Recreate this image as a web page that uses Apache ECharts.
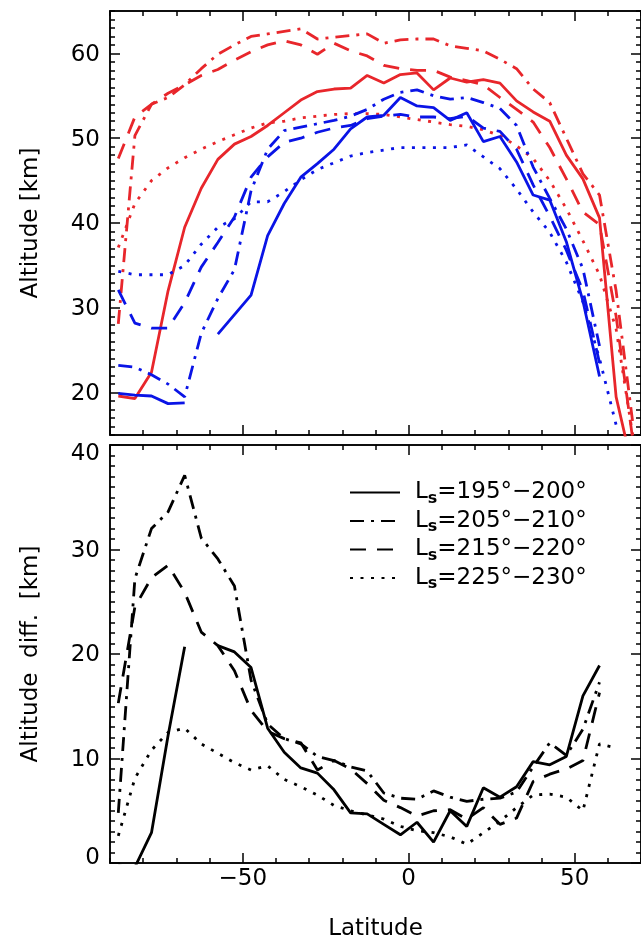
<!DOCTYPE html>
<html>
<head>
<meta charset="utf-8">
<script src="https://cdn.jsdelivr.net/npm/echarts@6/dist/echarts.min.js"></script>
<style>
html,body{margin:0;padding:0;background:#fff;}
#chart{width:641px;height:942px;}
</style>
</head>
<body>
<div id="chart"></div>
<script>
// ---------------- data ----------------
const lat = [-87.5, -82.5, -77.5, -72.5, -67.5, -62.5, -57.5, -52.5, -47.5, -42.5, -37.5, -32.5,
             -27.5, -22.5, -17.5, -12.5, -7.5, -2.5, 2.5, 7.5, 12.5, 17.5, 22.5, 27.5,
             32.5, 37.5, 42.5, 47.5, 52.5, 57.5, 62.5, 67.5];

// top panel (red)
const redSolid   = [19.6, 19.3, 22.4, 32.0, 39.5, 44.1, 47.5, 49.3, 50.2, 51.5, 53.0, 54.5, 55.5, 55.8, 55.9, 57.4, 56.5, 57.5, 57.7, 55.7, 57.1, 56.6, 56.9, 56.5, 54.4, 53.1, 52.0, 48.0, 45.2, 40.6, 19.5, 11.0];
const redDashDot = [28.1, 50.3, 54.0, 54.8, 56.3, 58.2, 59.9, 61.0, 62.0, 62.3, 62.6, 62.9, 61.7, 61.9, 62.1, 62.3, 61.2, 61.6, 61.7, 61.7, 60.9, 60.6, 60.3, 59.3, 58.2, 55.8, 54.2, 50.0, 45.8, 43.3, 32.0, 16.5];
const redDashed  = [47.6, 52.5, 54.0, 55.3, 56.3, 57.4, 58.1, 59.2, 60.2, 61.0, 61.5, 61.0, 59.9, 61.2, 60.3, 59.7, 58.6, 58.2, 58.0, 58.0, 57.2, 56.8, 56.3, 54.8, 53.4, 51.9, 48.9, 45.2, 41.3, 39.8, 29.0, 14.5];
const redDotted  = [37.1, 42.3, 45.0, 46.5, 47.7, 48.7, 49.6, 50.4, 51.2, 51.8, 52.0, 52.4, 52.6, 52.8, 52.9, 52.9, 52.8, 52.5, 52.2, 51.9, 51.6, 51.4, 51.0, 50.3, 49.1, 47.6, 45.0, 41.7, 37.9, 33.9, 27.5, 15.0];
// top panel (blue)
const blueSolid   = [19.9, 19.7, 19.6, 18.7, 18.8, null, 26.9, 29.2, 31.5, 38.5, 42.3, 45.4, 47.0, 48.7, 51.1, 52.5, 52.7, 54.8, 53.8, 53.6, 52.1, 53.0, 49.6, 50.2, 47.2, 43.3, 42.7, 37.8, 30.8, 21.9, null, null];
const blueDashDot = [23.2, 23.0, 22.1, 21.0, 19.5, 27.0, 31.1, 34.5, 43.8, 48.7, 50.9, 51.3, 51.7, 52.1, 52.6, 53.4, 54.6, 55.4, 55.7, 55.0, 54.6, 54.8, 54.2, 53.5, 51.5, 46.6, 42.9, 39.3, 34.6, 25.5, null, null];
const blueDashed  = [32.1, 28.2, 27.6, 27.6, 30.6, 34.8, 37.7, 40.7, 45.4, 47.8, 49.5, 50.0, 50.7, 51.2, 51.5, 52.3, 52.6, 52.8, 52.5, 52.5, 52.3, 52.6, 51.2, 50.8, 48.7, 44.5, 40.8, 36.8, 32.0, 23.5, null, null];
const blueDotted  = [34.3, 33.9, 33.9, 33.9, 35.0, 37.5, 39.5, 40.5, 42.5, 42.5, 43.7, 45.1, 46.3, 47.1, 47.9, 48.3, 48.6, 48.9, 48.9, 48.9, 48.9, 49.2, 47.8, 46.4, 44.0, 41.3, 38.9, 35.4, 30.7, 24.0, 16.2, null];

// bottom panel (altitude difference)
const diffSolid   = [-0.3, -0.4, 2.9, 12.2, 20.7, null, 20.8, 20.2, 18.7, 12.9, 10.6, 9.1, 8.6, 7.0, 4.8, 4.7, 3.7, 2.7, 3.9, 2.0, 5.0, 3.5, 7.2, 6.3, 7.3, 9.7, 9.4, 10.2, 16.0, 18.9, null, null];
const diffDashDot = [4.8, 27.2, 32.0, 33.6, 37.1, 31.1, 29.1, 26.5, 17.5, 13.3, 11.9, 11.4, 10.2, 9.8, 9.2, 8.8, 6.7, 6.2, 6.1, 6.9, 6.3, 5.9, 6.1, 6.2, 6.8, 9.2, 11.5, 10.3, 12.8, 17.3, null, null];
const diffDashed  = [15.3, 24.5, 27.3, 28.5, 25.9, 22.1, 20.8, 18.4, 14.6, 12.6, 11.9, 11.5, 8.9, 9.8, 9.0, 7.6, 6.0, 5.3, 4.5, 5.0, 5.1, 4.2, 5.3, 3.7, 4.3, 7.8, 8.5, 9.0, 9.8, 16.3, null, null];
const diffDotted  = [2.6, 8.1, 10.8, 12.5, 12.9, 11.4, 10.5, 9.6, 8.9, 9.3, 8.0, 7.3, 6.5, 5.5, 5.0, 4.6, 4.2, 3.5, 3.1, 2.9, 2.5, 1.8, 2.9, 4.0, 5.3, 6.5, 6.6, 6.3, 5.0, 11.4, 11.0, null];

const legendNames = ['Ls=195°−200°', 'Ls=205°−210°', 'Ls=215°−220°', 'Ls=225°−230°'];
const xMajorTicks = [-50, 0, 50];
const yMajorTop = [20, 30, 40, 50, 60];
const yMajorBottom = [0, 10, 20, 30, 40];

// ---------------- styling ----------------
const FONT = 'DejaVu Sans';
const RED = '#e8262b', BLUE = '#0a14e6', BLACK = '#000000';
const DASH = { solid: 'solid', dashdot: [14, 7, 3, 7], dashed: [16, 11], dotted: [3, 7.5] };
const LW = 2.8;
const AX = { color: '#000', width: 1.5 };

function fmtX(v) { return v < 0 ? '\u2212' + (-v) : String(v); }

function xAxes(grid, labels) {
  const base = { type: 'value', gridIndex: grid, min: -90, max: 70,
    axisLine: { show: true, onZero: false, lineStyle: AX }, splitLine: { show: false } };
  return [
    Object.assign({}, base, { position: 'bottom',
      axisTick: { show: true, inside: true, length: 10, lineStyle: AX, customValues: xMajorTicks },
      axisLabel: { show: labels, customValues: xMajorTicks, formatter: fmtX, fontFamily: FONT, fontSize: 23, color: '#000', margin: 5 },
      name: labels ? 'Latitude' : '', nameLocation: 'middle', nameGap: 55,
      nameTextStyle: { fontFamily: FONT, fontSize: 23, color: '#000' } }),
    Object.assign({}, base, { position: 'bottom', interval: 10,
      axisTick: { show: true, inside: true, length: 5, lineStyle: AX }, axisLabel: { show: false } }),
    Object.assign({}, base, { position: 'top',
      axisTick: { show: true, inside: true, length: 10, lineStyle: AX, customValues: xMajorTicks },
      axisLabel: { show: false } }),
    Object.assign({}, base, { position: 'top', interval: 10,
      axisTick: { show: true, inside: true, length: 5, lineStyle: AX }, axisLabel: { show: false } })
  ];
}

function yAxes(grid, min, max, name, major, shiftEnds) {
  const base = { type: 'value', gridIndex: grid, min: min, max: max,
    axisLine: { show: true, onZero: false, lineStyle: AX }, splitLine: { show: false } };
  const lab = { show: true, fontFamily: FONT, fontSize: 23, color: '#000', margin: 10,
    customValues: major,
    formatter: v => {
      if (shiftEnds && v === min) return '{lo|' + v + '}';
      if (shiftEnds && v === max) return '{hi|' + v + '}';
      return '{n|' + v + '}';
    },
    rich: {
      n:  { fontFamily: FONT, fontSize: 23, color: '#000', padding: [3, 0, 0, 0] },
      lo: { fontFamily: FONT, fontSize: 23, color: '#000', padding: [0, 0, 10, 0] },
      hi: { fontFamily: FONT, fontSize: 23, color: '#000', padding: [19, 0, 0, 0] }
    } };
  const mainTick = { show: true, inside: true, length: 10, lineStyle: AX, customValues: major };
  return [
    Object.assign({}, base, { position: 'left', axisTick: mainTick, axisLabel: lab,
      name: name, nameLocation: 'middle', nameGap: 67,
      nameTextStyle: { fontFamily: FONT, fontSize: 23, color: '#000' } }),
    Object.assign({}, base, { position: 'left', interval: 1,
      axisTick: { show: true, inside: true, length: 5, lineStyle: AX }, axisLabel: { show: false } }),
    Object.assign({}, base, { position: 'right',
      axisTick: Object.assign({}, mainTick), axisLabel: { show: false } }),
    Object.assign({}, base, { position: 'right', interval: 1,
      axisTick: { show: true, inside: true, length: 5, lineStyle: AX }, axisLabel: { show: false } })
  ];
}

function line(name, arr, color, dash, xi, yi) {
  return { name: name, type: 'line', xAxisIndex: xi, yAxisIndex: yi, symbol: 'none',
    showSymbol: false, silent: true, clip: true, connectNulls: false,
    lineStyle: { color: color, width: LW, type: dash }, itemStyle: { color: color, opacity: 0 },
    data: lat.map((x, i) => [x, arr[i]]) };
}

const chart = echarts.init(document.getElementById('chart'), null, { renderer: 'canvas' });
chart.setOption({
  animation: false,
  backgroundColor: '#fff',
  grid: [
    { left: 110, top: 11, width: 537.5, height: 424 },
    { left: 110, top: 445, width: 537.5, height: 424 }
  ],
  xAxis: xAxes(0, false).concat(xAxes(1, true)),
  yAxis: yAxes(0, 15, 65, 'Altitude [km]', yMajorTop, false)
    .concat(yAxes(1, 0, 40, 'Altitude  diff.  [km]', yMajorBottom, true)),
  legend: {
    data: legendNames, orient: 'vertical', left: 344, top: 476,
    itemWidth: 50, itemHeight: 14, itemGap: 3, selectedMode: false,
    itemStyle: { opacity: 0 },
    formatter: n => '{L|L}{s|s}{t|' + n.slice(2) + '}',
    textStyle: { color: '#000', fontFamily: FONT, fontSize: 23,
      rich: {
        L: { fontFamily: FONT, fontSize: 23, color: '#000', lineHeight: 28, padding: [0, 0, 0, 10] },
        s: { fontFamily: FONT, fontSize: 16, fontWeight: 'bold', color: '#000', lineHeight: 12, verticalAlign: 'bottom' },
        t: { fontFamily: FONT, fontSize: 23, color: '#000', lineHeight: 28 }
      } }
  },
  series: [
    line('r1', redSolid, RED, DASH.solid, 0, 0),
    line('r2', redDashDot, RED, DASH.dashdot, 0, 0),
    line('r3', redDashed, RED, DASH.dashed, 0, 0),
    line('r4', redDotted, RED, DASH.dotted, 0, 0),
    line('b1', blueSolid, BLUE, DASH.solid, 0, 0),
    line('b2', blueDashDot, BLUE, DASH.dashdot, 0, 0),
    line('b3', blueDashed, BLUE, DASH.dashed, 0, 0),
    line('b4', blueDotted, BLUE, DASH.dotted, 0, 0),
    line(legendNames[0], diffSolid, BLACK, DASH.solid, 4, 4),
    line(legendNames[1], diffDashDot, BLACK, DASH.dashdot, 4, 4),
    line(legendNames[2], diffDashed, BLACK, DASH.dashed, 4, 4),
    line(legendNames[3], diffDotted, BLACK, DASH.dotted, 4, 4)
  ]
});
</script>
</body>
</html>
